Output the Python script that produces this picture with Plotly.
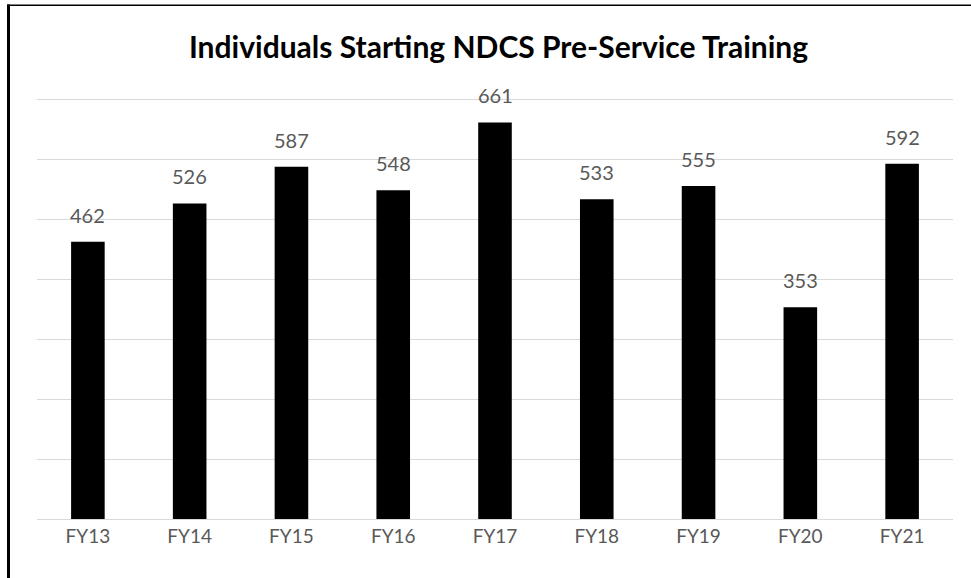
import plotly.graph_objects as go

categories = ["FY13", "FY14", "FY15", "FY16", "FY17", "FY18", "FY19", "FY20", "FY21"]
values = [462, 526, 587, 548, 661, 533, 555, 353, 592]
title_text = "Individuals Starting NDCS Pre-Service Training"

W, H = 971, 578
ml, mr, mt, mb = 37, 18, 96, 59
pw, ph = W - ml - mr, H - mt - mb
FONT = "Lato, Open Sans, sans-serif"

fig = go.Figure(go.Bar(
    x=categories, y=values,
    marker=dict(color="black", line=dict(width=0)),
    hoverinfo="skip",
))

for c, v in zip(categories, values):
    fig.add_annotation(x=c, y=v, text=str(v), showarrow=False, yanchor="bottom",
                       yshift=13, font=dict(family=FONT, size=20, color="#595959"))

def px2paper_x(px):
    return (px - ml) / pw

def px2paper_y(py):
    return (H - mb - py) / ph

# chart border (left thick, top thin; right/bottom lie outside the picture)
fig.add_shape(type="line", xref="paper", yref="paper",
              x0=px2paper_x(8.5), x1=px2paper_x(8.5),
              y0=px2paper_y(600), y1=px2paper_y(4.5),
              line=dict(color="black", width=3), layer="above")
fig.add_shape(type="line", xref="paper", yref="paper",
              x0=px2paper_x(7), x1=px2paper_x(990),
              y0=px2paper_y(5.3), y1=px2paper_y(5.3),
              line=dict(color="black", width=1.5), layer="above")

fig.update_layout(
    width=W, height=H,
    margin=dict(l=ml, r=mr, t=mt, b=mb),
    paper_bgcolor="white", plot_bgcolor="white",
    bargap=0.67,
    showlegend=False,
    title=dict(text="<b>" + title_text + "</b>", xref="paper", x=px2paper_x(498.5), xanchor="center",
               y=1 - 47 / H, yanchor="middle",
               font=dict(family=FONT, size=30, color="black")),
    xaxis=dict(showgrid=False, showline=True, linecolor="#d9d9d9", linewidth=1,
               ticks="", tickfont=dict(family=FONT, size=19, color="#595959")),
    yaxis=dict(range=[0, 705], tickvals=[0, 100, 200, 300, 400, 500, 600, 700],
               showgrid=True, gridcolor="#d9d9d9", gridwidth=1,
               showticklabels=False, zeroline=False, fixedrange=True),
)

fig.write_html("out.html", config={"displayModeBar": False},
               post_script="document.body.style.margin='0';document.body.style.overflow='hidden';")
